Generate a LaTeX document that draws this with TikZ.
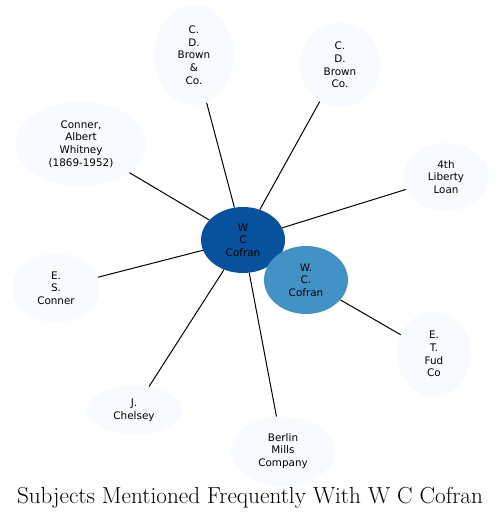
\documentclass[tikz,border=0pt]{standalone}
\usepackage{fontspec}
\newfontfamily\nodefont{DejaVu Sans}
\usetikzlibrary{shapes.geometric}
\definecolor{lightnode}{HTML}{F7FBFF}
\definecolor{darknode}{HTML}{08519C}
\definecolor{midnode}{HTML}{4292C6}
\tikzset{
  ent/.style={ellipse, draw=none, fill=lightnode, inner sep=0pt, align=center,
    font=\nodefont\fontsize{7.8}{9.5}\selectfont},
  link/.style={draw=black, line width=0.75pt}
}
\begin{document}
\begin{tikzpicture}[x=0.75pt,y=-0.75pt]
\useasboundingbox (0,0) rectangle (500,520);
\node[ent, minimum width=60pt, minimum height=75pt] (b1) at (194,55) {C.\\D.\\Brown\\\&\\Co.};
\node[ent, minimum width=60.75pt, minimum height=63pt] (b2) at (340,65) {C.\\D.\\Brown\\Co.};
\node[ent, minimum width=97.5pt, minimum height=63.75pt] (ca) at (81,144) {Conner,\\Albert\\Whitney\\(1869-1952)};
\node[ent, minimum width=63.75pt, minimum height=51pt] (ll) at (446,177) {4th\\Liberty\\Loan};
\node[ent, minimum width=66pt, minimum height=51.75pt] (es) at (56,288) {E.\\S.\\Conner};
\node[ent, minimum width=55.5pt, minimum height=63.75pt] (et) at (434,354) {E.\\T.\\Fud\\Co};
\node[ent, minimum width=71.25pt, minimum height=36.75pt] (jc) at (134,410) {J.\\Chelsey};
\node[ent, minimum width=78pt, minimum height=51.75pt] (bm) at (283,451) {Berlin\\Mills\\Company};
\node[ent, fill=darknode, minimum width=63pt, minimum height=49.5pt] (c) at (243,240) {W\\C\\Cofran};
\node[ent, fill=midnode, minimum width=63pt, minimum height=51pt] (wc) at (306,280) {W.\\C.\\Cofran};
\draw[link] (c) -- (b1);
\draw[link] (c) -- (b2);
\draw[link] (c) -- (ca);
\draw[link] (c) -- (ll);
\draw[link] (c) -- (es);
\draw[link] (c) -- (jc);
\draw[link] (c) -- (bm);
\draw[link] (wc) -- (et);
\node[font=\fontsize{17.4}{20}\selectfont, inner sep=0pt] (title) at (250,498) {Subjects Mentioned Frequently With W C Cofran};
\end{tikzpicture}
\end{document}
